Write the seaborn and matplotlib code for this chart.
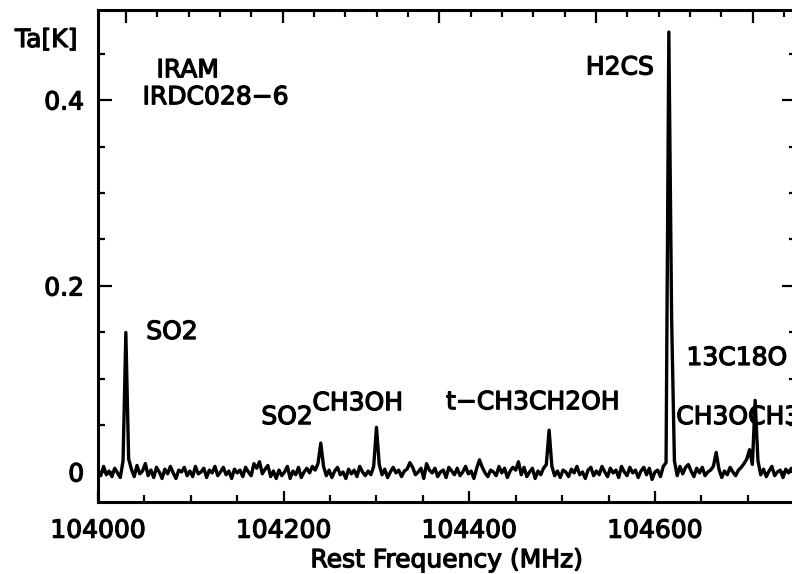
import numpy as np
import pandas as pd
import matplotlib
matplotlib.use("Agg")
import matplotlib.pyplot as plt
import matplotlib.patheffects as pe
import seaborn as sns

# ---- data ----
f_start = 104000.0      # MHz, first channel
f_step = 3.0            # MHz per channel
# antenna temperature in mK, one value per channel
ta_mK = [
    2, -4, 6, -3, 1, -5, 4, -1, -6, 12,
    150, 14, 3, -5, 7, -2, 1, 9, -4, 2,
    -6, 5, 0, -7, 3, -2, 6, -1, -7, 2,
    0, 5, -4, 1, -5, 6, -2, 0, 4, -6,
    2, -1, 6, -4, 0, 5, -3, 1, -7, 3,
    -1, 2, -5, 5, 0, -4, 9, 4, 11, -2,
    3, 7, -5, 1, -7, 2, -4, 0, 6, -7,
    1, -3, 5, -6, 0, 4, -1, 6, 2, 9,
    31, 6, -4, 2, -6, 1, 5, -3, 0, -7,
    3, -2, 2, -5, 6, 0, -4, 1, -3, 6,
    48, 8, -3, 3, -6, 0, 5, -1, 2, -5,
    1, 3, 10, 5, -3, 0, 4, -7, 9, 2,
    -1, 4, -5, 0, 2, -6, 5, 1, -3, 4,
    -4, 0, 6, -2, 1, -7, 4, 13, 5, -1,
    -5, 2, 0, -4, 6, -1, 4, -6, 1, 5,
    2, 11, -3, 5, -5, 0, 4, -7, 1, -3,
    4, 8, 45, 6, -4, 1, -6, 2, 0, -5,
    3, -1, 6, -3, 0, -7, 2, 5, -4, 1,
    -3, 6, 0, -5, 4, -1, 2, -6, 6, 0,
    -4, 5, -1, 2, -6, 1, 5, -3, 4, -8,
    0, 2, -5, 6, 10, 473, 165, 12, -4, 6,
    -2, 5, 8, 1, -5, 4, -1, 5, -4, 0,
    2, 6, 21, 3, -6, 1, -3, 5, 0, -4,
    2, 5, 9, 14, 24, 8, 77, 12, -3, 3,
    -5, 1, 6, -4, 0, 2, -6, 3, -1, 4,
]

line_labels = ["IRAM", "IRDC028\u22126", "H2CS", "SO2", "SO2", "CH3OH",
               "t\u2212CH3CH2OH", "13C18O", "CH3OCH3"]
label_freq = [104063, 104048, 104599, 104052, 104176, 104231, 104375, 104634, 104623]
label_ta = [0.432, 0.403, 0.435, 0.1505, 0.059, 0.074, 0.075, 0.1226, 0.059]
label_ha = ["left", "left", "right", "left", "left", "left", "left", "left", "left"]

freq = f_start + f_step * np.arange(len(ta_mK))
df = pd.DataFrame({"freq": freq, "ta": np.array(ta_mK) / 1000.0})

# ---- plot ----
sns.set_style("ticks")
plt.rcParams["font.family"] = ["DejaVu Sans"]
plt.rcParams["text.color"] = "black"
plt.rcParams["xtick.color"] = "black"
plt.rcParams["ytick.color"] = "black"
plt.rcParams["axes.labelcolor"] = "black"
FS = 18
heavy = [pe.withStroke(linewidth=0.9, foreground="black")]

fig = plt.figure(figsize=(7.92, 5.74), dpi=100)
ax = fig.add_axes([98 / 792, 72 / 574, 698 / 792, 492 / 574])

sns.lineplot(data=df, x="freq", y="ta", ax=ax, color="black", linewidth=2.4)

ax.set_xlim(104000, 104752)
ax.set_ylim(-0.0323, 0.4968)

ax.set_xticks([104000, 104200, 104400, 104600])
ax.set_xticklabels(["104000", "104200", "104400", "104600"])
ax.set_xticks(np.arange(104000, 104750, 50), minor=True)
ax.set_yticks([0, 0.2, 0.4])
ax.set_yticklabels(["0", "0.2", "0.4"])
ax.set_yticks(np.arange(0, 0.5, 0.05), minor=True)

for s in ax.spines.values():
    s.set_visible(True)
    s.set_linewidth(2.2)
    s.set_color("black")

ax.tick_params(axis="x", which="major", direction="in", length=8, width=1.6,
               labelsize=FS, pad=12, top=False, bottom=True, colors="black")
ax.tick_params(axis="x", which="minor", direction="in", length=5, width=1.6,
               top=False, bottom=True, colors="black")
ax.tick_params(axis="y", which="major", direction="in", length=10, width=1.6,
               labelsize=FS, pad=10, left=True, right=True, colors="black")
ax.tick_params(axis="y", which="minor", direction="in", length=5, width=1.6,
               left=True, right=True, colors="black")
for lab in ax.get_xticklabels() + ax.get_yticklabels():
    lab.set_path_effects(heavy)

# top axis: ticks only, on its own scale
top = ax.twiny()
top.set_xlim(ax.get_xlim())
top_major = 104198.9 + 168.8 * np.arange(-1, 4)
top_minor = 104198.9 + 33.76 * np.arange(-5, 17)
top.set_xticks(top_major)
top.set_xticks(top_minor, minor=True)
top.set_xticklabels([])
top.tick_params(axis="x", which="major", direction="in", length=9, width=1.6, colors="black")
top.tick_params(axis="x", which="minor", direction="in", length=5, width=1.6, colors="black")
for s in top.spines.values():
    s.set_visible(False)

ax.set_xlabel("Rest Frequency (MHz)", fontsize=FS, labelpad=4, color="black",
              path_effects=heavy)
ax.set_ylabel("")
fig.text(15 / 792, 1 - 40 / 574, "Ta[K]", fontsize=FS, ha="left", va="center",
         color="black", path_effects=heavy)

for txt, fx, ty, ha in zip(line_labels, label_freq, label_ta, label_ha):
    ax.text(fx, ty, txt, fontsize=FS, ha=ha, va="center", color="black",
            path_effects=heavy)

fig.savefig("out.png", dpi=100)
